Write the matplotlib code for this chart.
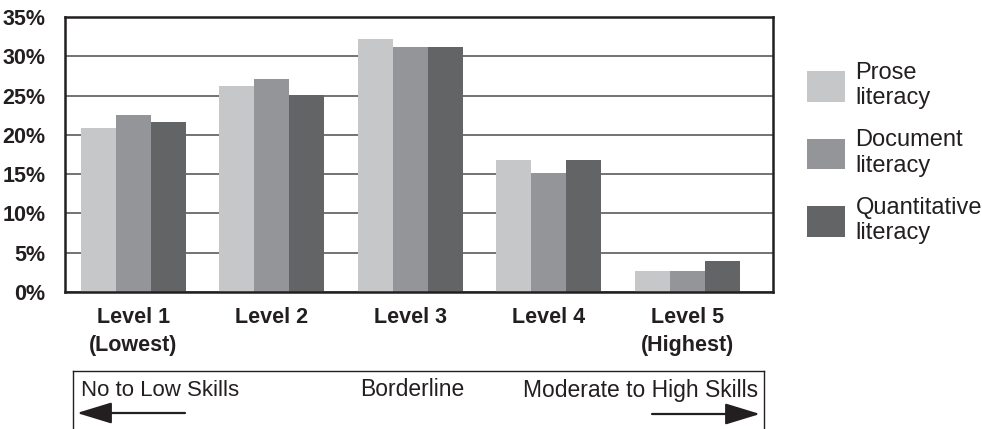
import numpy as np
import matplotlib
matplotlib.use('Agg')
import matplotlib.pyplot as plt
from matplotlib.patches import FancyArrowPatch
from matplotlib.lines import Line2D

plt.rcParams['font.family'] = ['Liberation Sans', 'DejaVu Sans']

levels = ["Level 1\n(Lowest)", "Level 2", "Level 3", "Level 4", "Level 5\n(Highest)"]
prose = [20.9, 26.2, 32.2, 16.8, 2.7]
document = [22.5, 27.1, 31.2, 15.1, 2.7]
quantitative = [21.7, 25.1, 31.2, 16.8, 4.0]
series_names = ["Prose\nliteracy", "Document\nliteracy", "Quantitative\nliteracy"]
colors = ["#c6c7c9", "#939598", "#636466"]
yticks = [0, 5, 10, 15, 20, 25, 30, 35]

fig = plt.figure(figsize=(9.82, 4.29), dpi=100)
ax = fig.add_axes([65/982, 1-292/429, 708/982, 275/429])

x = np.arange(len(levels))
w = 0.253
for i, (vals, name) in enumerate(zip([prose, document, quantitative], series_names)):
    ax.bar(x + (i-1)*w, vals, w, color=colors[i], label=name, zorder=3)

ax.set_ylim(0, 35)
ax.set_xlim(-0.495, 4.62)
ax.set_yticks(yticks)
ax.set_yticklabels([f"{v}%" for v in yticks], fontsize=15.5, fontweight='bold', color='#231f20')
ax.set_xticks(x)
ax.set_xticklabels(levels, fontsize=15.5, fontweight='bold', color='#231f20', linespacing=1.45)
ax.tick_params(axis='both', length=0)
ax.tick_params(axis='y', pad=14)
ax.tick_params(axis='x', pad=11)
ax.yaxis.grid(True, color='#4d4d4d', linewidth=1.1, zorder=0)
for s in ax.spines.values():
    s.set_linewidth(1.8)
    s.set_color('#231f20')
    s.set_zorder(5)

leg = ax.legend(loc='upper left', bbox_to_anchor=(807/982, 1-62/429), bbox_transform=fig.transFigure,
                frameon=False, fontsize=17, handlelength=1.6, handleheight=1.6,
                labelspacing=0.85, handletextpad=0.45, borderpad=0, borderaxespad=0)
for t in leg.get_texts():
    t.set_color('#231f20')

# skill range box under the axis
def fx(px):
    return px / 982
def fy(py):
    return 1 - py / 429

box_kw = dict(color='#231f20', linewidth=1.0, transform=fig.transFigure)
fig.add_artist(Line2D([fx(73), fx(73)], [fy(371), fy(429)], **box_kw))
fig.add_artist(Line2D([fx(73), fx(764)], [fy(371), fy(371)], **box_kw))
fig.add_artist(Line2D([fx(764), fx(764)], [fy(371), fy(429)], **box_kw))

fig.text(fx(81), fy(390), "No to Low Skills", fontsize=16, ha='left', va='center', color='#231f20')
fig.text(fx(412), fy(390), "Borderline", fontsize=16.5, ha='center', va='center', color='#231f20')
fig.text(fx(758), fy(390), "Moderate to High Skills", fontsize=16.5, ha='right', va='center', color='#231f20')

arrow_kw = dict(transform=fig.transFigure, arrowstyle='-|>,head_length=1.8,head_width=0.55',
                color='#231f20', linewidth=1.6, mutation_scale=12, shrinkA=0, shrinkB=0)
fig.add_artist(FancyArrowPatch((fx(185), fy(413)), (fx(77), fy(413)), **arrow_kw))
fig.add_artist(FancyArrowPatch((fx(652), fy(414)), (fx(760), fy(414)), **arrow_kw))

fig.savefig("out.png", dpi=100)
